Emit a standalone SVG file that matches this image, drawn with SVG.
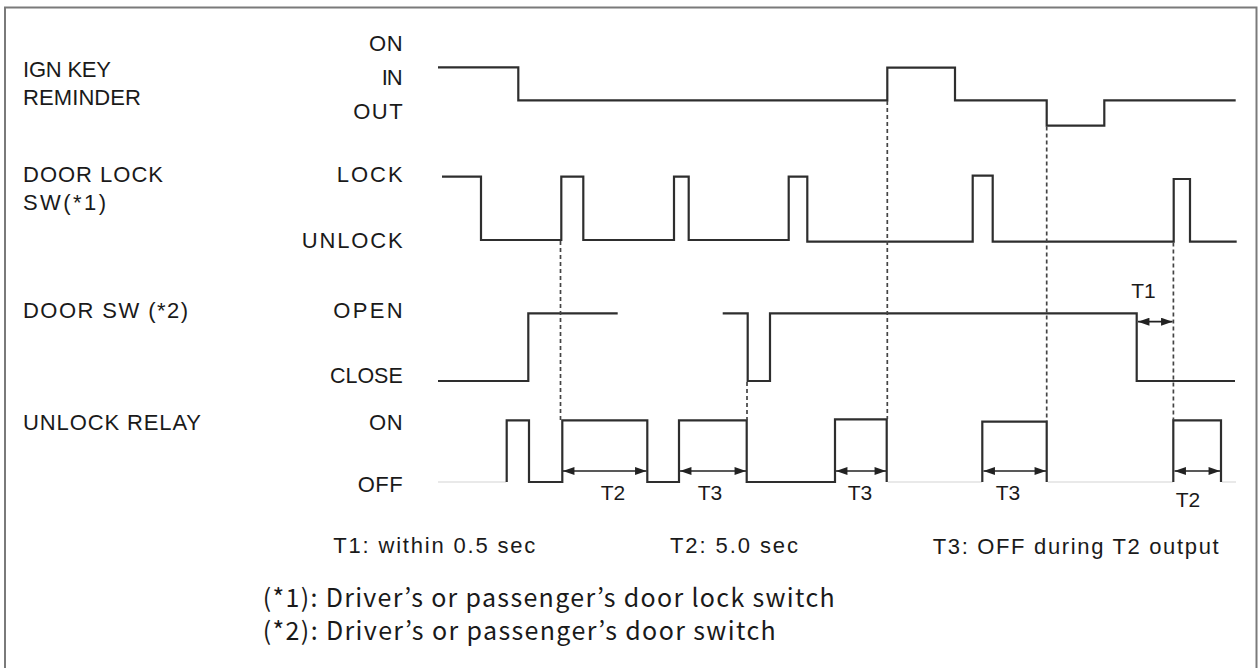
<svg xmlns="http://www.w3.org/2000/svg" width="1258" height="668" viewBox="0 0 1258 668">
<style>
  .lbl { font-family: "Liberation Sans", Arial, sans-serif; font-size: 22px; fill: #1a1a1a; }
  .tl { font-family: "Liberation Sans", Arial, sans-serif; font-size: 21px; fill: #1a1a1a; text-anchor: middle; }
  .note { font-family: "Noto Sans CJK KR", "Noto Sans", sans-serif; font-size: 25px; fill: #1a1a1a; }
  .sig { fill: none; stroke: #2e2e2e; stroke-width: 2.2; stroke-linejoin: miter; }
  .faint { fill: none; stroke: #e2e2e2; stroke-width: 1.5; }
  .dash { fill: none; stroke: #444; stroke-width: 1.7; stroke-dasharray: 4 3; }
  .arr { fill: none; stroke: #222; stroke-width: 1.7; marker-start: url(#ah); marker-end: url(#ah); }
</style>
<defs>
  <marker id="ah" viewBox="0 0 10 7" refX="10" refY="3.5" markerWidth="12" markerHeight="8" markerUnits="userSpaceOnUse" orient="auto-start-reverse">
    <path d="M0,0 L10,3.5 L0,7 z" fill="#222"/>
  </marker>
</defs>
<rect x="0" y="0" width="1258" height="668" fill="#fff"/>
<rect x="5" y="7.5" width="1251.5" height="665" fill="none" stroke="#7a7a7a" stroke-width="2"/>

<g id="labels-left">
  <g id="ign-key"><text class="lbl" x="23" y="77" textLength="88">IGN KEY</text><text class="lbl" x="23" y="105" textLength="118">REMINDER</text></g>
  <g id="door-lock-sw"><text class="lbl" x="23" y="182" textLength="140">DOOR LOCK</text><text class="lbl" x="23" y="210" textLength="83">SW(*1)</text></g>
  <g id="door-sw"><text class="lbl" x="23" y="317.5" textLength="165">DOOR SW (*2)</text></g>
  <g id="unlock-relay"><text class="lbl" x="23" y="430" textLength="178">UNLOCK RELAY</text></g>
</g>

<g id="labels-states">
  <text class="lbl" x="369" y="51" textLength="33.7">ON</text>
  <text class="lbl" x="381.7" y="85" textLength="21">IN</text>
  <text class="lbl" x="353.3" y="119.3" textLength="49.3">OUT</text>
  <text class="lbl" x="336.7" y="181.7" textLength="66">LOCK</text>
  <text class="lbl" x="301.7" y="248.3" textLength="101">UNLOCK</text>
  <text class="lbl" x="333.3" y="317.7" textLength="69.3">OPEN</text>
  <text class="lbl" x="330" y="382.7" textLength="72.7" lengthAdjust="spacingAndGlyphs">CLOSE</text>
  <text class="lbl" x="369" y="430" textLength="33.7">ON</text>
  <text class="lbl" x="357.7" y="491.7" textLength="45">OFF</text>
</g>

<g id="waveforms">
  <path id="ign-wave" class="sig" d="M438 67.3 H518.3 V100.3 H887.3 V67.7 H955 V100.3 H1046.7 V125.7 H1104.3 V100.3 H1235.7"/>
  <path id="lock-wave" class="sig" d="M442 176.7 H481 V240 H561.3 V176.7 H583.3 V240 H674 V176.7 H688.7 V240 H788.7 V176.7 H807.3 V241.7 H972.7 V175.7 H992.7 V241.7 H1173.7 V179 H1190 V241.7 H1236.7"/>
  <path id="door-wave" class="sig" d="M438 381 H528.3 V313.3 H617.7 M722.7 313.3 H747.7 V381 H770 V313.3 H1136.7 V381 H1235"/>
  <path class="faint" d="M438 482 H506 M888 482 H982 M1048 482 H1173 M1222 482 H1236"/>
  <path id="relay-wave" class="sig" d="M506.7 482 V420.3 H529 V482 H562.3 V420.3 H647.3 V482 H679 V420.3 H746.7 V482 H835 V419.3 H886.7 V482 M982.3 482 V421.7 H1046.7 V482 M1173.3 482 V420.3 H1221 V482"/>
</g>

<g id="connectors">
  <line class="dash" x1="560.5" y1="241" x2="560.5" y2="420"/>
  <line class="dash" x1="747" y1="382" x2="747" y2="420"/>
  <line class="dash" x1="887.3" y1="101" x2="887.3" y2="419"/>
  <line class="dash" x1="1046.7" y1="126.5" x2="1046.7" y2="421"/>
  <line class="dash" x1="1173.4" y1="242.5" x2="1173.4" y2="420"/>
  <line class="arr" x1="563" y1="471" x2="646.5" y2="471"/>
  <line class="arr" x1="680" y1="471" x2="746" y2="471"/>
  <line class="arr" x1="836" y1="471" x2="886" y2="471"/>
  <line class="arr" x1="983.5" y1="471" x2="1046" y2="471"/>
  <line class="arr" x1="1174.5" y1="471" x2="1220" y2="471"/>
  <line class="arr" x1="1138" y1="321.7" x2="1172.5" y2="321.7"/>
</g>

<g id="time-labels">
  <text class="tl" x="613" y="500">T2</text>
  <text class="tl" x="710" y="500">T3</text>
  <text class="tl" x="860" y="500">T3</text>
  <text class="tl" x="1008" y="500">T3</text>
  <text class="tl" x="1188" y="507">T2</text>
  <text class="tl" x="1143.4" y="298.3">T1</text>
</g>

<g id="legend">
  <text class="lbl" x="333.3" y="553.3" textLength="202">T1: within 0.5 sec</text>
  <text class="lbl" x="670" y="553.3" textLength="128">T2: 5.0 sec</text>
  <text class="lbl" x="932.7" y="554" textLength="286">T3: OFF during T2 output</text>
  <text class="note" x="262.7" y="606.7" textLength="572">(*1): Driver’s or passenger’s door lock switch</text>
  <text class="note" x="262.7" y="640" textLength="513">(*2): Driver’s or passenger’s door switch</text>
</g>
</svg>
